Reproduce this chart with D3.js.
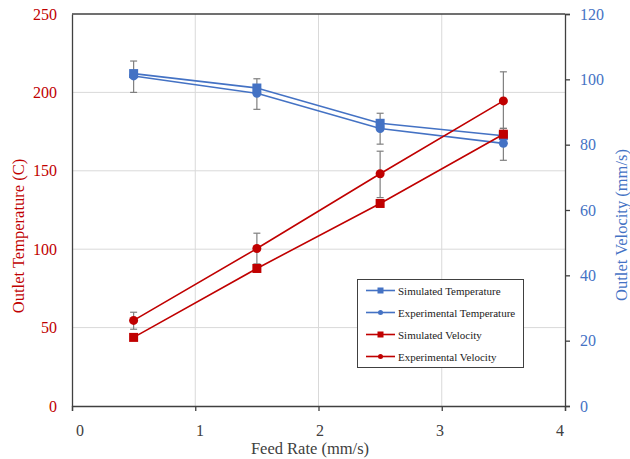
<!DOCTYPE html>
<html><head><meta charset="utf-8">
<script src="https://cdn.jsdelivr.net/npm/d3@7"></script>
<style>body{margin:0;background:#fff}svg{display:block}text{font-family:"Liberation Serif","Times New Roman",serif}</style>
</head><body>
<svg id="c" width="630" height="459"></svg>
<script>
const feedRate = [0.5, 1.5, 2.5, 3.5];
const simTemp = [212, 202.8, 180.3, 172.4];
const expTemp = [210.5, 199.4, 177, 167.5];
const expTempLo = [200, 189.2, 167, 156.7];
const expTempHi = [220, 208.7, 186.7, 177];
const simVel = [21, 42.1, 62, 83.2];
const expVel = [26.2, 48.2, 71.1, 93.4];
const expVelLo = [23.5, 43.5, 63.8, 85];
const expVelHi = [28.7, 52.9, 78, 102.3];
const xTicks = [0, 1, 2, 3, 4];
const yLeftTicks = [0, 50, 100, 150, 200, 250];
const yRightTicks = [0, 20, 40, 60, 80, 100, 120];
const legendLabels = ["Simulated Temperature", "Experimental Temperature", "Simulated Velocity", "Experimental Velocity"];

const RED = "#C00000", BLUE = "#4472C4", GRID = "#d9d9d9", AX = "#404040";
const m = {l: 72, t: 14, r: 565, b: 406};
const svg = d3.select("#c");
const x = d3.scaleLinear().domain([0, 4]).range([m.l, m.r]);
const xLab = d3.scaleLinear().domain([0, 4]).range([80, 560]);
const yL = d3.scaleLinear().domain([0, 250]).range([m.b, m.t]);
const yR = d3.scaleLinear().domain([0, 120]).range([m.b, m.t]);

// grid
svg.append("g").selectAll("line").data(yLeftTicks.slice(1, -1)).join("line")
  .attr("x1", m.l).attr("x2", m.r).attr("y1", d => yL(d)).attr("y2", d => yL(d))
  .attr("stroke", GRID).attr("stroke-width", 1);
svg.append("g").selectAll("line").data(xTicks.slice(1, -1)).join("line")
  .attr("y1", m.t).attr("y2", m.b).attr("x1", d => x(d)).attr("x2", d => x(d))
  .attr("stroke", GRID).attr("stroke-width", 1);

// axes
const gx = svg.append("g").attr("transform", `translate(0,${m.b})`)
  .call(d3.axisBottom(x).tickValues(xTicks).tickSize(5).tickFormat(""));
svg.append("g").selectAll("text").data(xTicks).join("text")
  .attr("x", d => xLab(d)).attr("y", 436).attr("text-anchor", "middle")
  .attr("font-size", 16).attr("fill", "#404040").text(d => d3.format("d")(d));
const gl = svg.append("g").attr("transform", `translate(${m.l},0)`)
  .call(d3.axisLeft(yL).tickValues(yLeftTicks).tickSize(0).tickPadding(15));
gl.selectAll("text").attr("fill", RED).attr("font-size", 16);
const gr = svg.append("g").attr("transform", `translate(${m.r},0)`)
  .call(d3.axisRight(yR).tickValues(yRightTicks).tickSize(5).tickPadding(10));
gr.selectAll("text").attr("fill", BLUE).attr("font-size", 16);
[gx, gl, gr].forEach(g => { g.select(".domain").attr("stroke", AX).attr("stroke-width", 1.3); g.selectAll(".tick line").attr("stroke", AX).attr("stroke-width", 1.3); });
svg.append("line").attr("x1", m.l).attr("x2", m.r).attr("y1", m.t).attr("y2", m.t).attr("stroke", AX).attr("stroke-width", 1.3);

// titles
svg.append("text").attr("x", 310).attr("y", 454).attr("text-anchor", "middle").attr("font-size", 16.5).attr("fill", "#404040").text("Feed Rate (mm/s)");
svg.append("text").attr("transform", `translate(24,236) rotate(-90)`).attr("text-anchor", "middle").attr("font-size", 16.5).attr("fill", RED).text("Outlet Temperature (C)");
svg.append("text").attr("transform", `translate(627,225) rotate(-90)`).attr("text-anchor", "middle").attr("font-size", 16.5).attr("fill", BLUE).text("Outlet Velocity (mm/s)");

function series(vals, y, color, shape, lo, hi) {
  const pts = feedRate.map((f, i) => [f, vals[i]]);
  svg.append("path").datum(pts).attr("fill", "none").attr("stroke", color).attr("stroke-width", 1.6)
    .attr("d", d3.line().x(d => x(d[0])).y(d => y(d[1])));
  if (lo) {
    const g = svg.append("g").attr("stroke", "#7f7f7f").attr("stroke-width", 1.2);
    feedRate.forEach((f, i) => {
      g.append("line").attr("x1", x(f)).attr("x2", x(f)).attr("y1", y(lo[i])).attr("y2", y(hi[i]));
      [lo[i], hi[i]].forEach(v => g.append("line").attr("x1", x(f) - 3.5).attr("x2", x(f) + 3.5).attr("y1", y(v)).attr("y2", y(v)));
    });
  }
  const mg = svg.append("g").attr("fill", color);
  pts.forEach(p => {
    if (shape === "sq") mg.append("rect").attr("x", x(p[0]) - 4.5).attr("y", y(p[1]) - 4.5).attr("width", 9).attr("height", 9);
    else mg.append("circle").attr("cx", x(p[0])).attr("cy", y(p[1])).attr("r", 4.5);
  });
}
series(expTemp, yL, BLUE, "ci", expTempLo, expTempHi);
series(simTemp, yL, BLUE, "sq");
series(expVel, yR, RED, "ci", expVelLo, expVelHi);
series(simVel, yR, RED, "sq");

// legend
const lg = svg.append("g");
lg.append("rect").attr("x", 357.5).attr("y", 279.5).attr("width", 166).attr("height", 88).attr("fill", "#fff").attr("stroke", "#404040").attr("stroke-width", 1);
const lc = [BLUE, BLUE, RED, RED], ls = ["sq", "ci", "sq", "ci"];
legendLabels.forEach((t, i) => {
  const yy = 290.5 + i * 22;
  lg.append("line").attr("x1", 366).attr("x2", 395).attr("y1", yy).attr("y2", yy).attr("stroke", lc[i]).attr("stroke-width", 1.6);
  if (ls[i] === "sq") lg.append("rect").attr("x", 377.5).attr("y", yy - 3).attr("width", 6).attr("height", 6).attr("fill", lc[i]);
  else lg.append("circle").attr("cx", 380.5).attr("cy", yy).attr("r", 2.5).attr("fill", lc[i]);
  lg.append("text").attr("x", 398).attr("y", yy + 4).attr("font-size", 11).attr("fill", "#222").text(t);
});
</script>
</body></html>
